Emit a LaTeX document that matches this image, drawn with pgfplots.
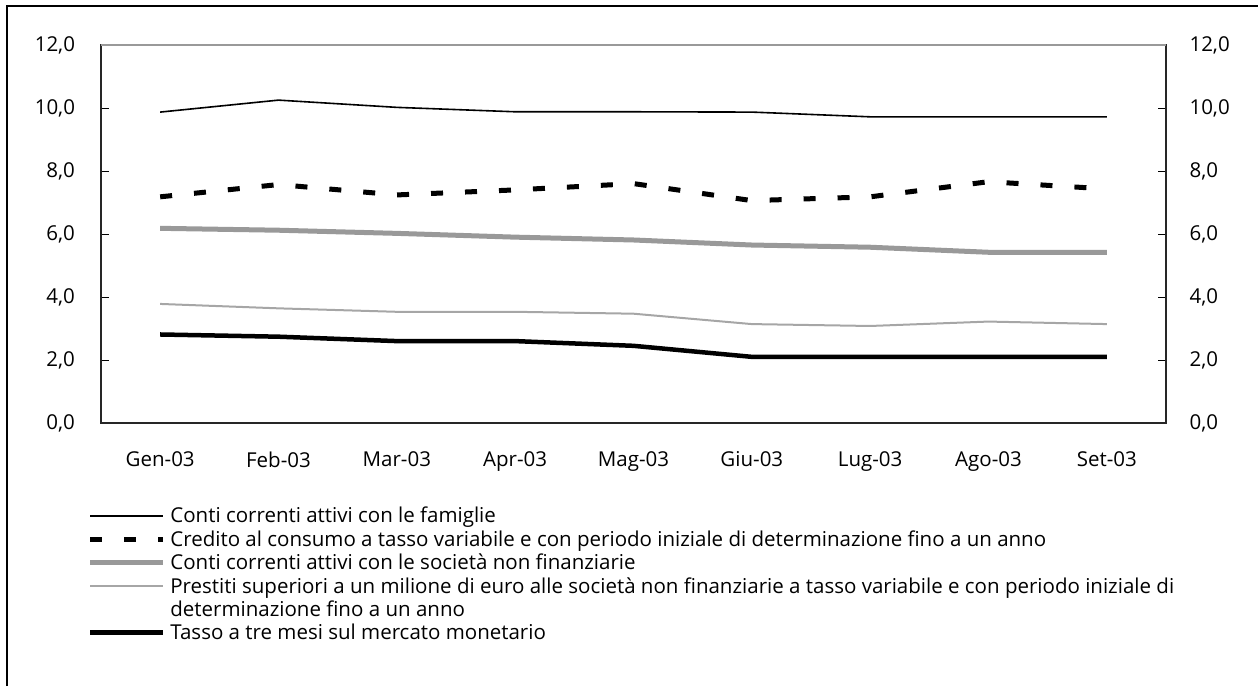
\documentclass[border=0pt]{standalone}
\usepackage{fontspec}
\setmainfont{Open Sans}
\usepackage{pgfplots}
\pgfplotsset{compat=1.18}
\definecolor{g1}{HTML}{999999}
\definecolor{g2}{HTML}{A6A6A6}
\begin{document}
\begin{tikzpicture}
\useasboundingbox (0pt,0pt) rectangle (1258pt,686pt);
\draw[line width=1.5pt] (7pt,0pt) -- (7pt,680pt) -- (1258pt,680pt);
\begin{axis}[
  at={(101pt,263pt)}, anchor=south west,
  scale only axis, width=1065pt, height=378pt,
  xmin=0, xmax=9, ymin=0, ymax=12,
  axis line style={line width=1.2pt, black!85},
  xtick={0.5,1.5,...,8.5},
  xticklabels={Gen-03,Feb-03,Mar-03,Apr-03,Mag-03,Giu-03,Lug-03,Ago-03,Set-03},
  extra x ticks={1,2,...,8}, extra x tick labels={},
  extra x tick style={xtick pos=bottom, major tick length=7pt},
  xtick pos=bottom, xtick style={draw=none},
  ytick={0,2,...,12},
  yticklabel pos=left,
  tick align=inside, major tick length=8pt,
  tick style={line width=0.8pt, black},
  tick label style={font=\fontsize{20.5}{24}\selectfont},
  xticklabel style={yshift=-25pt},
  yticklabel style={xshift=-22.5pt},
  /pgf/number format/.cd, fixed, fixed zerofill, precision=1, use comma, assume math mode=true,
  /pgfplots/.cd,
  legend cell align=left,
  legend image code/.code={\draw[#1] (0pt,0pt) -- (73pt,0pt);},
  legend style={at={(-0.0125,-0.2222)}, anchor=north west, draw=none, fill=none, inner sep=0pt,
    font=\fontsize{20.5}{24}\selectfont, row sep=6.2pt, nodes={inner ysep=0pt, inner xsep=4.5pt}},
]
\addplot[black, line width=1.6pt] coordinates {(0.5,9.87) (1.5,10.25) (2.5,10.02) (3.5,9.88) (4.5,9.88) (5.5,9.87) (6.5,9.72) (7.5,9.72) (8.5,9.72)};
\addlegendentry{Conti correnti attivi con le famiglie}
\addplot[black, line width=5pt, dash pattern=on 12pt off 22pt] coordinates {(0.5,7.18) (1.5,7.57) (2.5,7.24) (3.5,7.40) (4.5,7.60) (5.5,7.06) (6.5,7.18) (7.5,7.66) (8.5,7.43)};
\addlegendentry{Credito al consumo a tasso variabile e con periodo iniziale di determinazione fino a un anno}
\addplot[g1, line width=5pt] coordinates {(0.5,6.18) (1.5,6.12) (2.5,6.02) (3.5,5.90) (4.5,5.81) (5.5,5.65) (6.5,5.58) (7.5,5.42) (8.5,5.42)};
\addlegendentry{Conti correnti attivi con le società non finanziarie}
\addplot[g2, line width=2pt] coordinates {(0.5,3.78) (1.5,3.64) (2.5,3.53) (3.5,3.53) (4.5,3.47) (5.5,3.14) (6.5,3.08) (7.5,3.22) (8.5,3.14)};
\addlegendentry{Prestiti superiori a un milione di euro alle società non finanziarie a tasso variabile e con periodo iniziale di}
\addlegendimage{empty legend}
\addlegendentry{determinazione fino a un anno}
\addplot[black, line width=4.5pt] coordinates {(0.5,2.81) (1.5,2.74) (2.5,2.60) (3.5,2.60) (4.5,2.45) (5.5,2.10) (6.5,2.10) (7.5,2.10) (8.5,2.10)};
\addlegendentry{Tasso a tre mesi sul mercato monetario}
\end{axis}
\draw[white, line width=1.4pt] (101pt,641pt) -- (1166pt,641pt);
\draw[g1, line width=1.2pt] (101pt,641pt) -- (1166pt,641pt);
\begin{axis}[
  at={(101pt,263pt)}, anchor=south west,
  scale only axis, width=1065pt, height=378pt,
  xmin=0, xmax=9, ymin=0, ymax=12,
  hide x axis, axis y line*=right, axis line style={draw=none},
  ytick={0,2,...,12}, ytick style={draw=none},
  tick label style={font=\fontsize{20.5}{24}\selectfont},
  yticklabel style={xshift=20pt},
  /pgf/number format/.cd, fixed, fixed zerofill, precision=1, use comma, assume math mode=true,
]
\addplot[draw=none] coordinates {(0,0)};
\end{axis}
\end{tikzpicture}
\end{document}
